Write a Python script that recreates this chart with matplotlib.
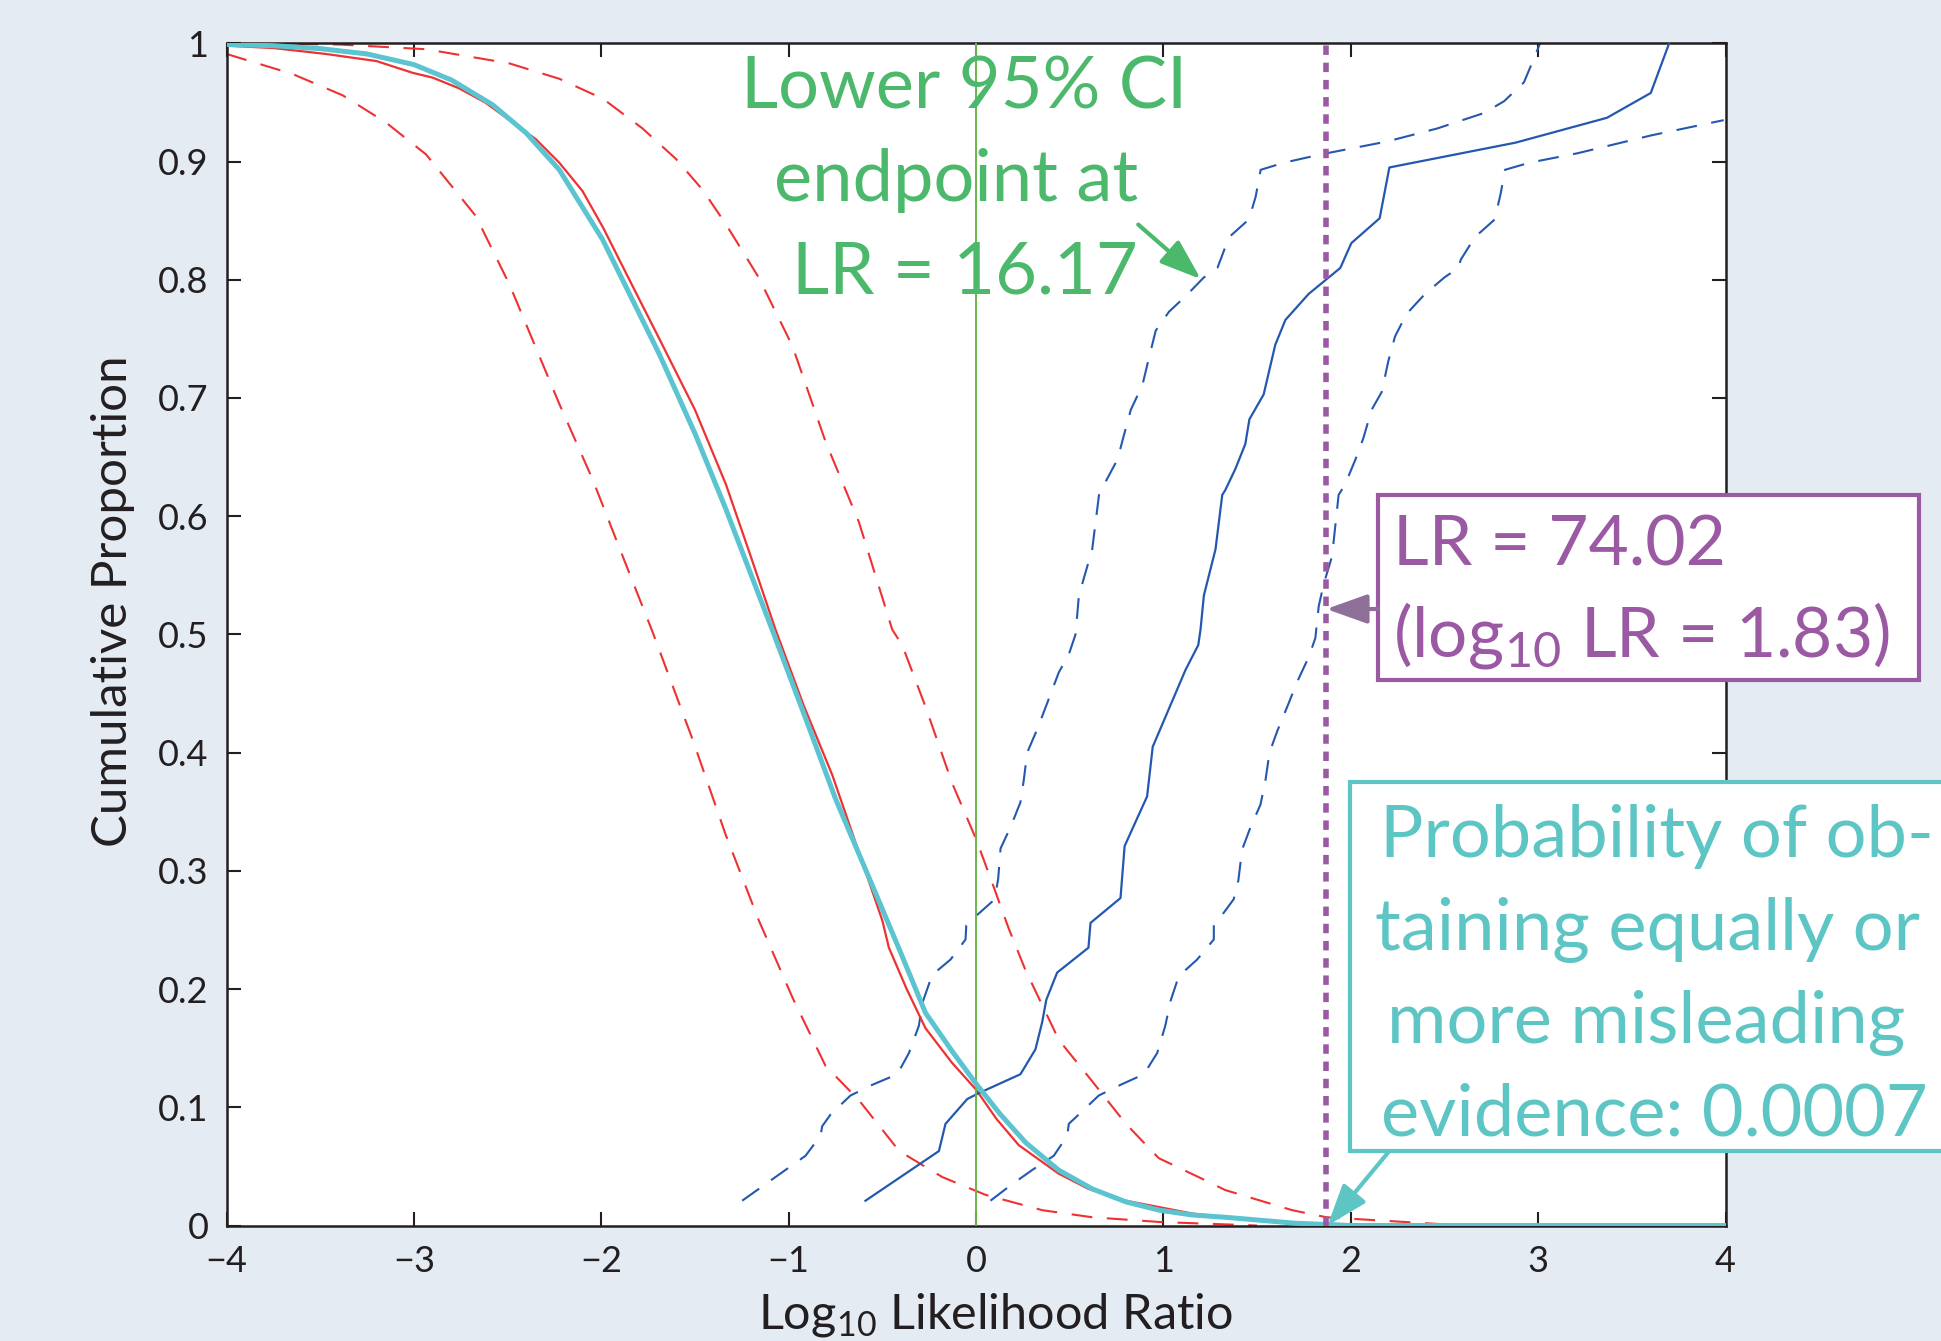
import numpy as np
import matplotlib
matplotlib.use("Agg")
import matplotlib.pyplot as plt
from matplotlib.patches import Rectangle

# curves (x = log10 LR, y = cumulative proportion)
model_x = [-4.0, -3.75, -3.5, -3.25, -3.0, -2.8, -2.58, -2.4, -2.224, -1.993, -1.69,
           -1.5, -1.335, -1.088, -0.9, -0.75, -0.533, -0.4, -0.27, -0.13, 0.0, 0.13,
           0.266, 0.44, 0.62, 0.8, 0.978, 1.15, 1.33, 1.7, 2.0, 4.0]
model_y = [0.999, 0.998, 0.9955, 0.991, 0.982, 0.969, 0.948, 0.924, 0.893, 0.834,
           0.737, 0.67, 0.606, 0.504, 0.425, 0.361, 0.280, 0.23, 0.18, 0.148, 0.120,
           0.094, 0.070, 0.047, 0.031, 0.020, 0.013, 0.009, 0.007, 0.002, 0.0, 0.0]

emp_x = [-4.0, -3.75, -3.47, -3.2, -3.006, -2.9, -2.76, -2.62, -2.49, -2.35, -2.224,
         -2.1, -1.99, -1.85, -1.69, -1.5, -1.335, -1.2, -1.07, -0.92, -0.767, -0.63,
         -0.5, -0.465, -0.37, -0.27, -0.13, 0.0, 0.11, 0.228, 0.44, 0.6, 0.80, 1.16,
         1.6, 2.0, 4.0]
emp_y = [0.998, 0.996, 0.991, 0.985, 0.975, 0.971, 0.962, 0.950, 0.935, 0.919, 0.899,
         0.875, 0.844, 0.800, 0.750, 0.690, 0.627, 0.565, 0.504, 0.440, 0.381, 0.318,
         0.258, 0.235, 0.200, 0.167, 0.138, 0.115, 0.090, 0.068, 0.044, 0.031, 0.021,
         0.010, 0.003, 0.001, 0.0]

emp_lo_x = [-4.0, -3.647, -3.38, -3.149, -2.935, -2.67, -2.49, -2.224, -2.046, -1.868,
            -1.726, -1.51, -1.337, -1.159, -0.98, -0.803, -0.625, -0.41, -0.18, 0.05,
            0.353, 0.62, 0.98, 1.5]
emp_lo_y = [0.991, 0.974, 0.956, 0.933, 0.906, 0.854, 0.796, 0.695, 0.631, 0.559,
            0.502, 0.41, 0.331, 0.258, 0.193, 0.135, 0.106, 0.063, 0.041, 0.026,
            0.013, 0.007, 0.003, 0.0]

emp_hi_x = [-4.0, -3.4, -2.935, -2.49, -2.224, -1.99, -1.78, -1.60, -1.459, -1.335,
            -1.16, -0.98, -0.803, -0.625, -0.447, -0.394, -0.27, -0.127, 0.0, 0.086,
            0.175, 0.264, 0.442, 0.62, 0.80, 0.975, 1.227, 1.33, 1.687, 1.87, 2.5]
emp_hi_y = [1.0, 0.999, 0.995, 0.983, 0.970, 0.953, 0.928, 0.902, 0.876, 0.847,
            0.802, 0.744, 0.663, 0.595, 0.504, 0.491, 0.439, 0.374, 0.327, 0.290,
            0.251, 0.216, 0.157, 0.122, 0.086, 0.057, 0.038, 0.030, 0.013, 0.007, 0.001]

alt_x = [-0.59, -0.198, -0.163, -0.047, 0.015, 0.237, 0.317, 0.353, 0.375, 0.433,
         0.60, 0.611, 0.771, 0.793, 0.913, 0.943, 1.118, 1.186, 1.198, 1.216, 1.278,
         1.314, 1.33, 1.384, 1.437, 1.459, 1.535, 1.597, 1.651, 1.775, 1.944, 2.003,
         2.154, 2.206, 2.88, 3.367, 3.601, 3.699]
alt_y = [0.021, 0.063, 0.086, 0.107, 0.112, 0.128, 0.149, 0.172, 0.191, 0.214,
         0.235, 0.256, 0.277, 0.321, 0.363, 0.405, 0.470, 0.491, 0.504, 0.533, 0.572,
         0.618, 0.622, 0.640, 0.661, 0.682, 0.703, 0.745, 0.766, 0.788, 0.810, 0.831,
         0.852, 0.895, 0.916, 0.937, 0.958, 1.0]

alt_lo_x = [-1.248, -1.017, -0.91, -0.83, -0.821, -0.776, -0.67, -0.554, -0.42, -0.358,
            -0.305, -0.287, -0.234, -0.136, -0.056, -0.052, -0.02, 0.086, 0.10, 0.118,
            0.131, 0.184, 0.237, 0.255, 0.273, 0.327, 0.38, 0.442, 0.495, 0.531, 0.549,
            0.62, 0.657, 0.755, 0.79, 0.826, 0.888, 0.923, 0.959, 1.03, 1.118, 1.216,
            1.288, 1.305, 1.35, 1.456, 1.492, 1.519, 1.643, 1.839, 2.195, 2.462, 2.71,
            2.818, 2.924, 2.977, 3.01]
alt_lo_y = [0.021, 0.047, 0.059, 0.076, 0.084, 0.094, 0.110, 0.119, 0.128, 0.146,
            0.169, 0.188, 0.212, 0.225, 0.242, 0.254, 0.259, 0.274, 0.277, 0.293,
            0.319, 0.337, 0.358, 0.377, 0.400, 0.420, 0.442, 0.468, 0.483, 0.500, 0.533,
            0.572, 0.619, 0.648, 0.669, 0.690, 0.711, 0.734, 0.757, 0.773, 0.786, 0.802,
            0.810, 0.817, 0.836, 0.851, 0.870, 0.893, 0.899, 0.906, 0.917, 0.928, 0.941,
            0.951, 0.967, 0.987, 1.0]

alt_hi_x = [0.077, 0.184, 0.30, 0.415, 0.487, 0.495, 0.549, 0.655, 0.771, 0.896,
            0.967, 1.01, 1.038, 1.082, 1.18, 1.269, 1.269, 1.296, 1.375, 1.40, 1.42,
            1.465, 1.518, 1.545, 1.566, 1.607, 1.669, 1.714, 1.776, 1.811, 1.829, 1.856,
            1.90, 1.935, 1.97, 2.03, 2.067, 2.111, 2.165, 2.20, 2.236, 2.297, 2.396,
            2.50, 2.574, 2.587, 2.662, 2.768, 2.80, 2.823, 2.953, 3.21, 3.60, 3.93, 3.99]
alt_hi_y = [0.021, 0.034, 0.047, 0.059, 0.076, 0.086, 0.094, 0.110, 0.119, 0.128,
            0.146, 0.169, 0.190, 0.211, 0.225, 0.242, 0.254, 0.259, 0.276, 0.292, 0.318,
            0.337, 0.356, 0.377, 0.400, 0.418, 0.442, 0.460, 0.481, 0.497, 0.524, 0.543,
            0.566, 0.618, 0.627, 0.650, 0.666, 0.690, 0.705, 0.731, 0.752, 0.771, 0.788,
            0.802, 0.810, 0.817, 0.836, 0.851, 0.873, 0.893, 0.899, 0.907, 0.922,
            0.933, 0.935]

LR_OBS = 74.02
x_ticks = [-4, -3, -2, -1, 0, 1, 2, 3, 4]
x_ticklabels = ["\u22124", "\u22123", "\u22122", "\u22121", "0", "1", "2", "3", "4"]
y_ticks = [0, 0.1, 0.2, 0.3, 0.4, 0.5, 0.6, 0.7, 0.8, 0.9, 1.0]
y_ticklabels = ["0", "0.1", "0.2", "0.3", "0.4", "0.5", "0.6", "0.7", "0.8", "0.9", "1"]

BG = "#e4ebf2"
INK = "#231f20"
RED = "#ee3131"
BLUE = "#2458b0"
CYAN = "#5cc4d0"
CYAN_TXT = "#5ec5c5"
GREEN = "#4cb86c"
GREEN_LINE = "#69b54a"
PURPLE = "#9b59a4"
PURPLE_ARROW = "#8e6f98"

plt.rcParams["font.family"] = ["Lato", "DejaVu Sans"]
plt.rcParams["mathtext.fontset"] = "custom"
plt.rcParams["mathtext.rm"] = "Lato"
plt.rcParams["mathtext.it"] = "Lato:italic"
plt.rcParams["mathtext.bf"] = "Lato:bold"


def arrow(ax, tip, tail, color):
    ax.annotate("", xy=tip, xytext=tail, annotation_clip=False, zorder=8,
                arrowprops=dict(arrowstyle="-|>,head_length=1.4,head_width=0.5",
                                mutation_scale=18, color=color, lw=3,
                                shrinkA=0, shrinkB=0))


def main():
    fig = plt.figure(figsize=(19.41, 13.41), dpi=100, facecolor=BG)
    ax = fig.add_axes([0.1167, 0.0861, 0.7723, 0.8816])
    ax.set_facecolor("white")

    dash = (0, (10, 7))
    ax.plot(emp_lo_x, emp_lo_y, color=RED, lw=1.5, ls=dash, zorder=2)
    ax.plot(emp_hi_x, emp_hi_y, color=RED, lw=1.5, ls=dash, zorder=2)
    ax.plot(emp_x, emp_y, color=RED, lw=1.6, zorder=3)
    ax.plot(alt_lo_x, alt_lo_y, color=BLUE, lw=1.5, ls=dash, zorder=2)
    ax.plot(alt_hi_x, alt_hi_y, color=BLUE, lw=1.5, ls=dash, zorder=2)
    ax.plot(alt_x, alt_y, color=BLUE, lw=1.6, zorder=3)
    ax.axvline(0, color=GREEN_LINE, lw=1.4, zorder=3)
    ax.plot(model_x, model_y, color=CYAN, lw=3.6, zorder=4)
    ax.axvline(np.log10(LR_OBS), color=PURPLE, lw=4, ls=(0, (1.7, 1.4)),
               dash_capstyle="butt", zorder=5)

    ax.set_xlim(-4, 4)
    ax.set_ylim(0, 1)
    ax.set_xticks(x_ticks)
    ax.set_xticklabels(x_ticklabels)
    ax.set_yticks(y_ticks)
    ax.set_yticklabels(y_ticklabels)
    ax.tick_params(direction="in", length=10, width=1.5, colors=INK,
                   labelsize=26, top=True, right=True)
    ax.tick_params(axis="x", pad=14)
    ax.tick_params(axis="y", pad=13)
    for s in ax.spines.values():
        s.set_linewidth(1.8)
        s.set_color(INK)

    ax.text(-0.0664, 0.528, "Cumulative Proportion", transform=ax.transAxes,
            rotation=90, rotation_mode="anchor", ha="center", va="baseline",
            fontsize=35.5, color=INK)
    ax.text(0.5126, -0.0867, "Log$_{10}$ Likelihood Ratio", transform=ax.transAxes,
            ha="center", va="baseline", fontsize=35, color=INK)

    # green note
    big = 52
    ax.text(-0.061, 0.9445, "Lower 95% CI", ha="center", va="baseline",
            fontsize=big, color=GREEN, zorder=6)
    ax.text(-0.105, 0.8669, "endpoint at", ha="center", va="baseline",
            fontsize=big, color=GREEN, zorder=6)
    ax.text(-0.062, 0.7885, "LR = 16.17", ha="center", va="baseline",
            fontsize=big, color=GREEN, zorder=6)
    arrow(ax, (1.2, 0.8005), (0.8655, 0.8467), GREEN)

    # purple box
    ax.add_patch(Rectangle((2.143, 0.4616), 5.031 - 2.143, 0.6176 - 0.4616,
                           facecolor="white", edgecolor=PURPLE, lw=3,
                           clip_on=False, zorder=7))
    ax.text(2.2247, 0.5587, "LR = 74.02", ha="left", va="baseline",
            fontsize=50, color=PURPLE, zorder=8, clip_on=False)
    ax.text(2.2247, 0.481, "(log$_{10}$ LR = 1.83)", ha="left", va="baseline",
            fontsize=50, color=PURPLE, zorder=8, clip_on=False)
    arrow(ax, (np.log10(LR_OBS), 0.5215), (2.143, 0.5215), PURPLE_ARROW)

    # cyan box
    ax.add_patch(Rectangle((1.995, 0.0634), 3.4, 0.3749 - 0.0634,
                           facecolor="white", edgecolor=CYAN_TXT, lw=3,
                           clip_on=False, zorder=7))
    lines = [("Probability of ob-", 3.632, 0.3120),
             ("taining equally or", 3.585, 0.2334),
             ("more misleading", 3.579, 0.1548),
             ("evidence: 0.0007", 3.622, 0.0758)]
    for txt, tx, ty in lines:
        ax.text(tx, ty, txt, ha="center", va="baseline", fontsize=big,
                color=CYAN_TXT, zorder=8, clip_on=False)
    arrow(ax, (1.876, 0.0), (2.205, 0.0629), CYAN_TXT)

    fig.savefig("out.png", dpi=100, facecolor=BG)
    plt.close(fig)


if __name__ == "__main__":
    main()
